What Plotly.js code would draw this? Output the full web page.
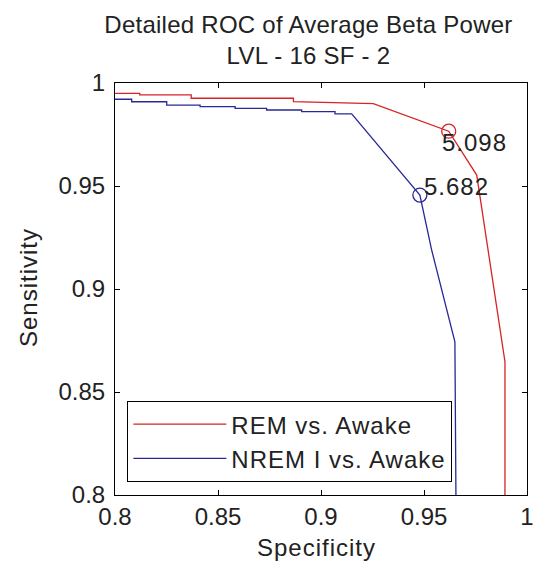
<!DOCTYPE html>
<html>
<head>
<meta charset="utf-8">
<script src="https://cdn.plot.ly/plotly-3.0.1.min.js"></script>
<style>
html,body{margin:0;padding:0;background:#fff;}
#chart{width:535px;height:567px;}
.xtitle, .ytitle, .legendtext, .annotation-text{letter-spacing:1px;}
.gtitle{letter-spacing:0.25px;}
</style>
</head>
<body>
<div id="chart"></div>
<script>
// ---- data ----
const remSpec = [0.8, 0.812, 0.812, 0.837, 0.837, 0.8866, 0.8866, 0.9254, 0.9620, 0.9756, 0.9893, 0.9893];
const remSens = [0.995, 0.995, 0.9942, 0.9942, 0.9926, 0.9926, 0.991, 0.990, 0.9766, 0.9553, 0.8647, 0.8];

const nremSpec = [0.8, 0.8081, 0.8081, 0.8251, 0.8251, 0.8413, 0.8413, 0.8583, 0.8583, 0.8736, 0.8736, 0.8906, 0.8906, 0.9068, 0.9068, 0.9149, 0.9480, 0.9537, 0.9650, 0.9655];
const nremSens = [0.9921, 0.9921, 0.9909, 0.9909, 0.9893, 0.9893, 0.9885, 0.9885, 0.9877, 0.9877, 0.9869, 0.9869, 0.9861, 0.9861, 0.985, 0.985, 0.9456, 0.919, 0.8744, 0.8];

const opSpec = [0.9620, 0.9480];
const opSens = [0.9766, 0.9456];
const opLabels = ['5.098', '5.682'];
const opLabelSpec = [0.9578, 0.9489];
const opLabelSens = [0.9709, 0.9500];

const seriesNames = ['REM vs. Awake', 'NREM I vs. Awake'];
const tickVals = [0.8, 0.85, 0.9, 0.95, 1];
const tickLabels = ['0.8', '0.85', '0.9', '0.95', '1'];
const titleLines = ['Detailed ROC of Average Beta Power', 'LVL - 16 SF - 2'];
const xTitle = 'Specificity';
const yTitle = 'Sensitivity';

const RED = 'rgb(215,35,35)';
const BLUE = 'rgb(40,40,150)';
const FONT = 'Liberation Sans, Arial, sans-serif';
const TXT = '#222';
const f24 = {family: FONT, size: 24, color: TXT};

const traces = [
  {x: remSpec, y: remSens, mode: 'lines', name: seriesNames[0], line: {color: RED, width: 1.3}},
  {x: nremSpec, y: nremSens, mode: 'lines', name: seriesNames[1], line: {color: BLUE, width: 1.3}},
  {x: [opSpec[0]], y: [opSens[0]], mode: 'markers', showlegend: false,
   marker: {symbol: 'circle-open', size: 14, color: RED, line: {width: 1.3}}},
  {x: [opSpec[1]], y: [opSens[1]], mode: 'markers', showlegend: false,
   marker: {symbol: 'circle-open', size: 14, color: BLUE, line: {width: 1.3}}}
];

const axisCommon = {
  range: [0.8, 1], tickmode: 'array', tickvals: tickVals, ticktext: tickLabels,
  showgrid: false, zeroline: false, showline: true, mirror: 'ticks',
  ticks: 'inside', ticklen: 5, tickcolor: '#000', linecolor: '#000', linewidth: 1,
  tickfont: f24
};

const annotations = opLabels.map((t, i) => ({
  x: opLabelSpec[i], y: opLabelSens[i], xref: 'x', yref: 'y', text: t, showarrow: false,
  xanchor: 'left', yanchor: 'middle', font: f24
}));
// axis titles placed as in the reference (slightly left of the plot centre)
annotations.push({text: xTitle, xref: 'paper', yref: 'paper', x: 0.5, y: 0, xshift: -5, yshift: -52,
  xanchor: 'center', yanchor: 'middle', showarrow: false, font: f24});
annotations.push({text: yTitle, xref: 'paper', yref: 'paper', x: 0, y: 0.5, xshift: -87, yshift: 1,
  xanchor: 'center', yanchor: 'middle', textangle: -90, showarrow: false, font: f24});

const layout = {
  width: 535, height: 567,
  margin: {l: 115, r: 8, t: 83, b: 72},
  paper_bgcolor: '#fff', plot_bgcolor: '#fff',
  font: f24,
  title: {text: titleLines.join('<br>'), x: 0.5766, xanchor: 'center', xref: 'container',
          y: 0.942, yanchor: 'top', yref: 'container', font: f24},
  xaxis: Object.assign({}, axisCommon),
  yaxis: Object.assign({}, axisCommon, {ticklabelstandoff: 4}),
  showlegend: true,
  legend: {x: 0.030, y: 0.228, xanchor: 'left', yanchor: 'top', bgcolor: '#fff',
           bordercolor: '#000', borderwidth: 1, itemwidth: 93,
           font: f24, tracegroupgap: 0},
  annotations: annotations
};

Plotly.newPlot('chart', traces, layout, {displayModeBar: false, staticPlot: true});
</script>
</body>
</html>
